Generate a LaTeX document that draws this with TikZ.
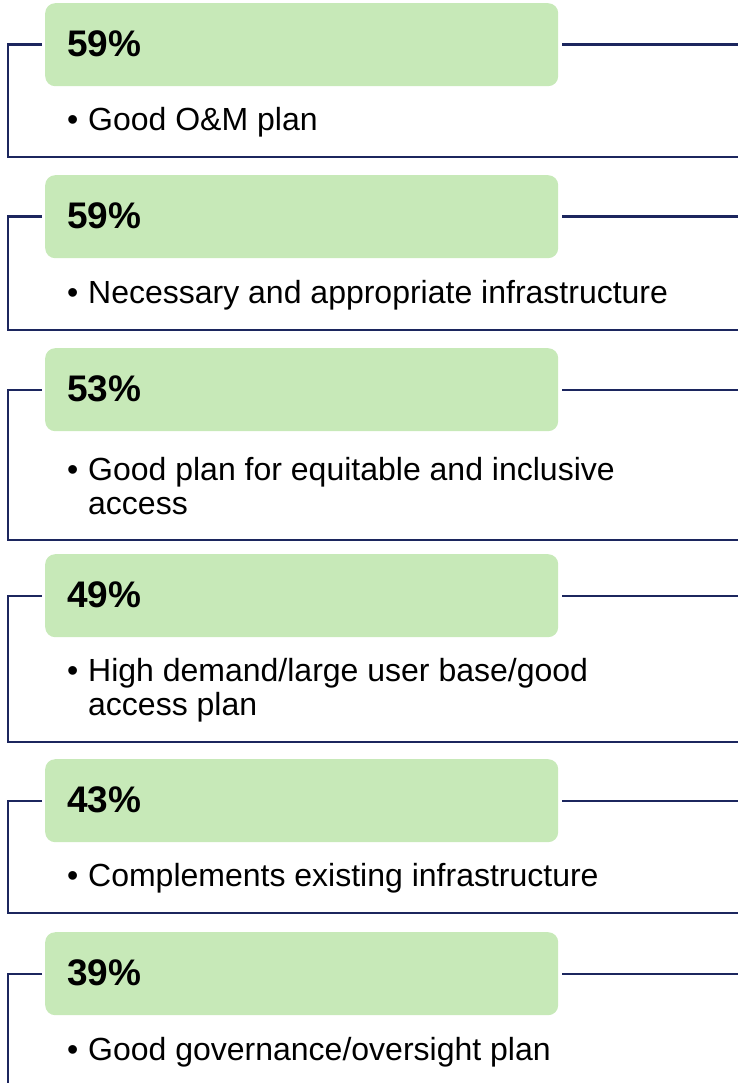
\documentclass[tikz,border=0pt]{standalone}
\usepackage{fontspec}
\setmainfont{Liberation Sans}
\definecolor{navy}{RGB}{28,38,94}
\definecolor{mint}{RGB}{199,233,184}
\begin{document}
\begin{tikzpicture}[x=1pt,y=-1pt,line join=miter,
    pctbox/.style={fill=mint,rounded corners=10pt,minimum width=513pt,minimum height=83pt,inner sep=0pt,anchor=north west},
    pct/.style={font=\fontsize{37}{40}\selectfont\bfseries,anchor=west,inner sep=0pt},
    item/.style={font=\fontsize{32}{34}\selectfont,align=left,anchor=west,inner sep=0pt},
    bracket/.style={draw=navy,line width=2.4pt}]
    \def\xl{8} \def\xr{738} \def\bh{83}
    \useasboundingbox (0,0) rectangle (\xr,1083);
    \foreach \i/\top/\bot/\pc/\txt in {
        1/3/157/59\%/{Good O\&M plan},
        2/175/330/59\%/{Necessary and appropriate infrastructure},
        3/348/540/53\%/{Good plan for equitable and inclusive\\\hspace*{21pt}access},
        4/554/742/49\%/{High demand/large user base/good\\\hspace*{21pt}access plan},
        5/759/913/43\%/{Complements existing infrastructure},
        6/932/1087/39\%/{Good governance/oversight plan}}{
        \node[pctbox] (box\i) at (45,\top) {};
        \node[pct] (pct\i) at (67,\top+\bh/2-1) {\pc};
        \node[item] (txt\i) at (67,{(\top+\bh+\bot)/2+1}) {\makebox[21pt][l]{•}\txt};
        \coordinate (lft\i) at (\xl,\bot);
        \coordinate (rgt\i) at (\xr,\bot);
        % bracket round the item, open line to the right
        \draw[bracket] ([xshift=-3pt]box\i.west) -| (lft\i) -- (rgt\i);
        \draw[bracket] ([xshift=4pt]box\i.east) -- (box\i.east -| rgt\i);
    }
\end{tikzpicture}
\end{document}
